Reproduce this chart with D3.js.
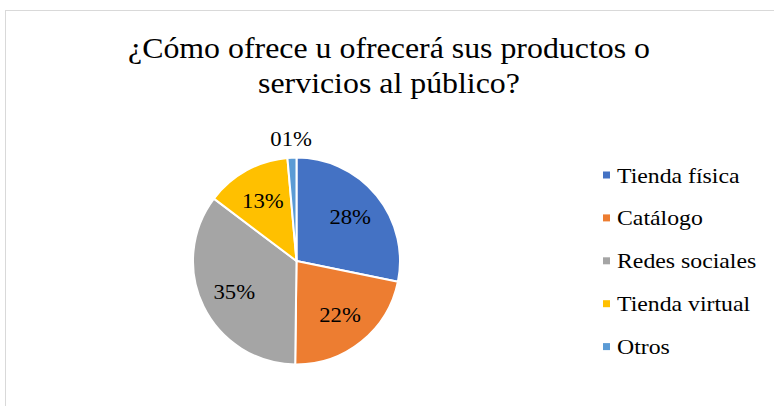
<!DOCTYPE html>
<html>
<head>
<meta charset="utf-8">
<script src="https://cdn.jsdelivr.net/npm/d3@7"></script>
<style>
  html, body { margin: 0; padding: 0; background: #fff; }
  svg { display: block; }
</style>
</head>
<body>
<svg id="chart" width="774" height="406"></svg>
<script>
const titleLines = ["¿Cómo ofrece u ofrecerá sus productos o", "servicios al público?"];
const categories = ["Tienda física", "Catálogo", "Redes sociales", "Tienda virtual", "Otros"];
const values = [28.2, 22.0, 35.1, 13.3, 1.4];
const colors = ["#4472C4", "#ED7D31", "#A5A5A5", "#FFC000", "#5B9BD5"];

const svg = d3.select("#chart");
const W = 774, H = 406;
const SERIF = '"Liberation Serif"';
const stretch = 1.08;

svg.append("rect").attr("width", W).attr("height", H).attr("fill", "#fff");
svg.append("rect")
  .attr("x", 5.5).attr("y", 10.5).attr("width", W + 10).attr("height", H + 10)
  .attr("fill", "none").attr("stroke", "#d9d9d9").attr("stroke-width", 1);

// Title
const title = svg.append("g");
titleLines.forEach((t, i) => {
  title.append("text")
    .attr("class", "stretch")
    .style("font-family", SERIF)
    .attr("x", 389).attr("y", 58 + i * 35)
    .attr("text-anchor", "middle")
    .attr("font-size", 29.5)
    .text(t);
});

// Pie
const cx = 296.5, cy = 261, R = 103.5;
const total = d3.sum(values);
const pie = d3.pie().sort(null).value(d => d.v);
const data = pie(categories.map((c, i) => ({ c, v: values[i], col: colors[i] })));
const arc = d3.arc().innerRadius(0).outerRadius(R);
const labelArc = d3.arc().innerRadius(R * 0.67).outerRadius(R * 0.67);
const outArc = d3.arc().innerRadius(R * 1.18).outerRadius(R * 1.18);
const fmt = p => d3.format("02.0f")(p * 100) + "%";

const g = svg.append("g").attr("transform", `translate(${cx},${cy})`);
g.selectAll("path.slice").data(data).join("path")
  .attr("class", "slice")
  .attr("d", arc)
  .attr("fill", d => d.data.col)
  .attr("stroke", "#fff")
  .attr("stroke-width", 2)
  .attr("stroke-linejoin", "round");

g.selectAll("text.lbl").data(data).join("text")
  .attr("class", "lbl stretch")
  .style("font-family", SERIF)
  .attr("transform", d => {
    const small = (d.endAngle - d.startAngle) < 0.2;
    const p = small ? outArc.centroid(d) : labelArc.centroid(d);
    return `translate(${p[0]},${p[1]})`;
  })
  .attr("text-anchor", "middle")
  .attr("dy", "0.35em")
  .attr("font-size", 21)
  .text(d => fmt(d.data.v / total));

// Legend
const legend = svg.append("g").attr("transform", "translate(603,175)");
const rowH = 42.9;
const items = legend.selectAll("g").data(categories).join("g")
  .attr("transform", (d, i) => `translate(0,${i * rowH})`);
items.append("rect")
  .attr("x", 0).attr("y", -3.5).attr("width", 7).attr("height", 7)
  .attr("fill", (d, i) => colors[i]);
items.append("text")
  .attr("class", "stretch")
  .style("font-family", SERIF)
  .attr("x", 14).attr("y", 7.5)
  .attr("font-size", 22)
  .text(d => d);

// slight horizontal widening to match the reference's glyph proportions
svg.selectAll("text.stretch").each(function () {
  const len = this.getComputedTextLength();
  d3.select(this).attr("textLength", len * stretch).attr("lengthAdjust", "spacingAndGlyphs");
});
</script>
</body>
</html>
